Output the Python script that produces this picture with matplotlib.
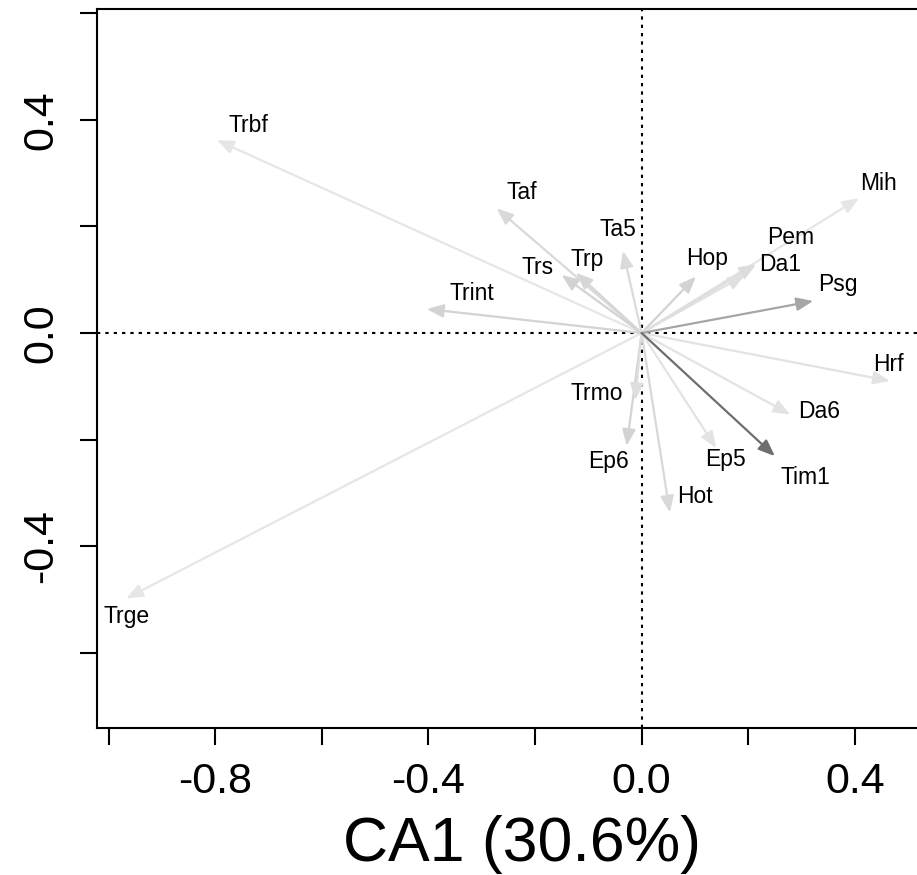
import matplotlib
matplotlib.use("Agg")
import matplotlib.pyplot as plt
import numpy as np

plt.rcParams['font.family'] = ['Liberation Sans', 'DejaVu Sans']
plt.rcParams['axes.unicode_minus'] = False

# variable arrows (CA1, CA2 scores)
names = ["Trbf", "Trge", "Mih", "Hrf", "Da6", "Ep5", "Taf", "Trint", "Trs", "Trp",
         "Ta5", "Hop", "Pem", "Da1", "Hot", "Ep6", "Trmo", "Psg", "Tim1"]
tip_x = [-0.797, -0.967, 0.408, 0.466, 0.279, 0.140, -0.272, -0.403, -0.150, -0.123,
         -0.035, 0.102, 0.215, 0.194, 0.053, -0.028, -0.012, 0.322, 0.250]
tip_y = [0.362, -0.498, 0.253, -0.090, -0.153, -0.216, 0.234, 0.045, 0.109, 0.113,
         0.154, 0.106, 0.129, 0.109, -0.337, -0.212, -0.126, 0.060, -0.231]
lab_x = [-0.738, -0.966, 0.444, 0.464, 0.333, 0.158, -0.225, -0.318, -0.195, -0.103,
         -0.044, 0.122, 0.280, 0.260, 0.100, -0.062, -0.084, 0.369, 0.307]
lab_y = [0.390, -0.532, 0.281, -0.060, -0.148, -0.237, 0.263, 0.075, 0.122, 0.138,
         0.195, 0.140, 0.180, 0.128, -0.307, -0.241, -0.114, 0.091, -0.271]
greys = ["#e6e6e6", "#e6e6e6", "#e6e6e6", "#e3e3e3", "#e3e3e3", "#e3e3e3", "#d9d9d9",
         "#d3d3d3", "#d3d3d3", "#d6d6d6", "#dadada", "#d3d3d3", "#dcdcdc", "#e0e0e0",
         "#d9d9d9", "#d3d3d3", "#dedede", "#a6a6a6", "#6e6e6e"]

xtick_vals = [-1.0, -0.8, -0.6, -0.4, -0.2, 0.0, 0.2, 0.4]
xtick_labs = ["", "-0.8", "", "-0.4", "", "0.0", "", "0.4"]
ytick_vals = [-0.6, -0.4, -0.2, 0.0, 0.2, 0.4, 0.6]
ytick_labs = ["", "-0.4", "", "0.0", "", "0.4", ""]

W, H = 917, 875
fig = plt.figure(figsize=(W / 100, H / 100), dpi=100)
ax = fig.add_axes([96.5 / W, 1 - 728 / H, (947.5 - 96.5) / W, (728 - 9) / H])
ax.set_xlim(-1.0227, 0.5739)
ax.set_ylim(-0.7411, 0.6079)

ax.axhline(0, color="black", lw=1.5, linestyle=(0, (1.6, 2.4)), zorder=1)
ax.axvline(0, color="black", lw=1.5, linestyle=(0, (1.6, 2.4)), zorder=1)

for i in range(len(names)):
    ax.annotate("", xy=(tip_x[i], tip_y[i]), xytext=(0, 0),
                arrowprops=dict(arrowstyle="-|>,head_length=0.5,head_width=0.2",
                                color=greys[i], lw=1.6, mutation_scale=20,
                                shrinkA=0, shrinkB=0), zorder=2)
    ax.text(lab_x[i], lab_y[i], names[i], fontsize=16.5, ha="center", va="center", zorder=3)

ax.set_xticks(xtick_vals)
ax.set_xticklabels(xtick_labs)
ax.set_yticks(ytick_vals)
ax.set_yticklabels(ytick_labs, rotation=90, va="center")
ax.tick_params(length=12.5, width=1.5, labelsize=31)
ax.tick_params(axis="x", pad=12)
ax.tick_params(axis="y", pad=13)
for s in ax.spines.values():
    s.set_linewidth(1.5)

ax.set_xlabel("CA1 (30.6%)", fontsize=45, labelpad=9)

fig.savefig("out.png", dpi=100)
